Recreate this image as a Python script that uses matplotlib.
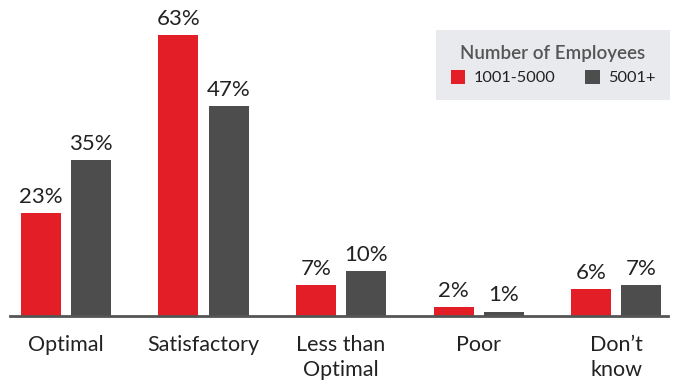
import matplotlib
matplotlib.use("Agg")
import matplotlib.pyplot as plt
import numpy as np

plt.rcParams['font.family'] = ['Lato', 'DejaVu Sans']

categories = ["Optimal", "Satisfactory", "Less than\nOptimal", "Poor", "Don\u2019t\nknow"]
small_co = [23, 63, 7, 2, 6]     # 1001-5000
large_co = [35, 47, 10, 1, 7]    # 5001+
series_names = ["1001-5000", "5001+"]
colors = ["#e31e26", "#4d4d4d"]

fig = plt.figure(figsize=(6.77, 3.83), dpi=100)
ax = fig.add_axes([0.0148, 0.175, 0.972, 0.825])

x = np.arange(len(categories))
w = 0.291
off = 0.182
b1 = ax.bar(x - off, small_co, w, color=colors[0], label=series_names[0])
b2 = ax.bar(x + off, large_co, w, color=colors[1], label=series_names[1])

for bars in (b1, b2):
    for b in bars:
        ax.text(b.get_x() + b.get_width() / 2, b.get_height() + 1.4,
                f"{b.get_height():.0f}%", ha="center", va="bottom",
                fontsize=16, color="#222222")

ax.set_xlim(-0.407, 4.378)
ax.set_ylim(0, 70.85)
ax.set_yticks([])
ax.set_xticks(x)
ax.set_xticklabels(categories, fontsize=15.5, color="#222222", linespacing=1.3)
ax.tick_params(axis="x", length=0, pad=14)
for s in ["top", "right", "left"]:
    ax.spines[s].set_visible(False)
ax.spines["bottom"].set_color("#555555")
ax.spines["bottom"].set_linewidth(2)

leg = ax.legend(ncol=2, loc="upper right", bbox_to_anchor=(0.9897, 0.9217),
                bbox_transform=fig.transFigure, borderaxespad=0,
                title="Number of Employees",
                fontsize=11.8, frameon=True, fancybox=False,
                handlelength=0.9, handleheight=0.9, handletextpad=0.5,
                columnspacing=1.8, borderpad=0.9, labelcolor="#222222")
leg.get_frame().set_facecolor("#e9eaee")
leg.get_frame().set_edgecolor("none")
leg.get_frame().set_alpha(1)
leg.get_title().set_fontsize(13.5)
leg.get_title().set_fontweight("semibold")
leg.get_title().set_color("#555555")

fig.savefig("out.png", dpi=100)
